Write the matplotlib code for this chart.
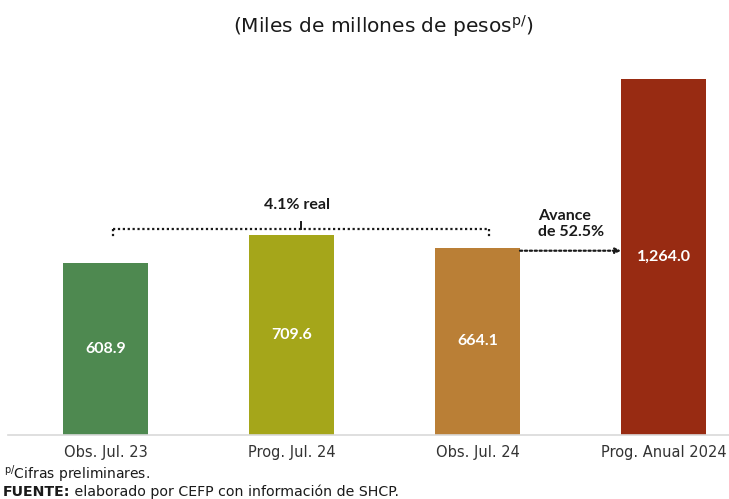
import matplotlib
matplotlib.use("Agg")
import matplotlib.pyplot as plt

categories = ["Obs. Jul. 23", "Prog. Jul. 24", "Obs. Jul. 24", "Prog. Anual 2024"]
values = [608.9, 709.6, 664.1, 1264.0]
value_labels = ["608.9", "709.6", "664.1", "1,264.0"]
colors = ["#4E8950", "#A5A61A", "#BA7F36", "#982B12"]
growth_label = "4.1% real"
advance_label = "Avance\nde 52.5%"

REG = "DejaVu Sans"
BOLD = "Lato"
plt.rcParams["font.family"] = [REG]
plt.rcParams["mathtext.fontset"] = "custom"
plt.rcParams["mathtext.rm"] = REG
plt.rcParams["mathtext.it"] = REG
plt.rcParams["mathtext.bf"] = REG + ":bold"

fig = plt.figure(figsize=(7.29, 4.99), dpi=100)
ax = fig.add_axes([8 / 729, 64 / 499, 721 / 729, 375 / 499])

x = list(range(len(categories)))
w = 0.457
bars = ax.bar(x, values, width=w, color=colors, zorder=2)

ax.set_xlim(-0.524, 3.352)
ax.set_ylim(0, 1331)

for spine in ["top", "right", "left"]:
    ax.spines[spine].set_visible(False)
ax.spines["bottom"].set_color("#D9D9D9")
ax.spines["bottom"].set_linewidth(1.2)
ax.set_yticks([])
ax.set_xticks(x)
ax.set_xticklabels(categories, fontsize=10.5, color="#333333")
ax.tick_params(axis="x", length=0, pad=7)

for xi, v, lab in zip(x, values, value_labels):
    ax.text(xi, v / 2, lab, ha="center", va="center", color="white",
            fontsize=11.5, fontweight="bold", family=BOLD, zorder=3)

# bracket between bar 0 and bar 2
dot = dict(color="#1A1A1A", linestyle=(0, (1, 1.2)), linewidth=1.6, zorder=3)
yb = max(values[:3]) + 22
ax.plot([0.04, 2.06], [yb, yb], **dot)
ax.plot([0.04, 0.04], [yb, yb - 28], **dot)
ax.plot([2.06, 2.06], [yb, yb - 28], **dot)
ax.plot([1.05, 1.05], [yb, yb + 25], color="#1A1A1A", linewidth=1.4, zorder=3)
ax.text(1.03, yb + 86, growth_label, ha="center", va="center",
        fontsize=11.5, fontweight="bold", family=BOLD, color="#1A1A1A")

# arrow from bar 2 to bar 3
ya = values[2] - 10
ax.annotate("", xy=(3 - w / 2, ya), xytext=(2 + w / 2, ya),
            arrowprops=dict(arrowstyle="-|>", color="#1A1A1A", lw=1.6,
                            linestyle=(0, (1, 1.2)), mutation_scale=8,
                            shrinkA=0, shrinkB=0), zorder=3)
ax.text(2.325, ya + 95, advance_label, ha="left", va="center",
        multialignment="left", fontsize=11.5, fontweight="bold",
        family=BOLD, color="#1A1A1A", linespacing=1.2)

# title
fig.text(383 / 729, 1 - 26 / 499, r"(Miles de millones de pesos$^{\mathrm{p/}}$)",
         ha="center", va="center", fontsize=14.5, color="#1A1A1A")

# footnotes
fig.text(4 / 729, 1 - 479 / 499, r"$^{\mathrm{p/}}$Cifras preliminares.",
         ha="left", va="baseline", fontsize=10, color="#1A1A1A")
t1 = fig.text(3 / 729, 1 - 496 / 499, "FUENTE:", ha="left", va="baseline",
              fontsize=10.2, fontweight="bold", color="#1A1A1A")
ax.annotate(" elaborado por CEFP con información de SHCP.", xy=(1, 0),
            xycoords=t1, ha="left", va="bottom", fontsize=10.2,
            color="#1A1A1A", annotation_clip=False)

fig.savefig("out.png", dpi=100)
